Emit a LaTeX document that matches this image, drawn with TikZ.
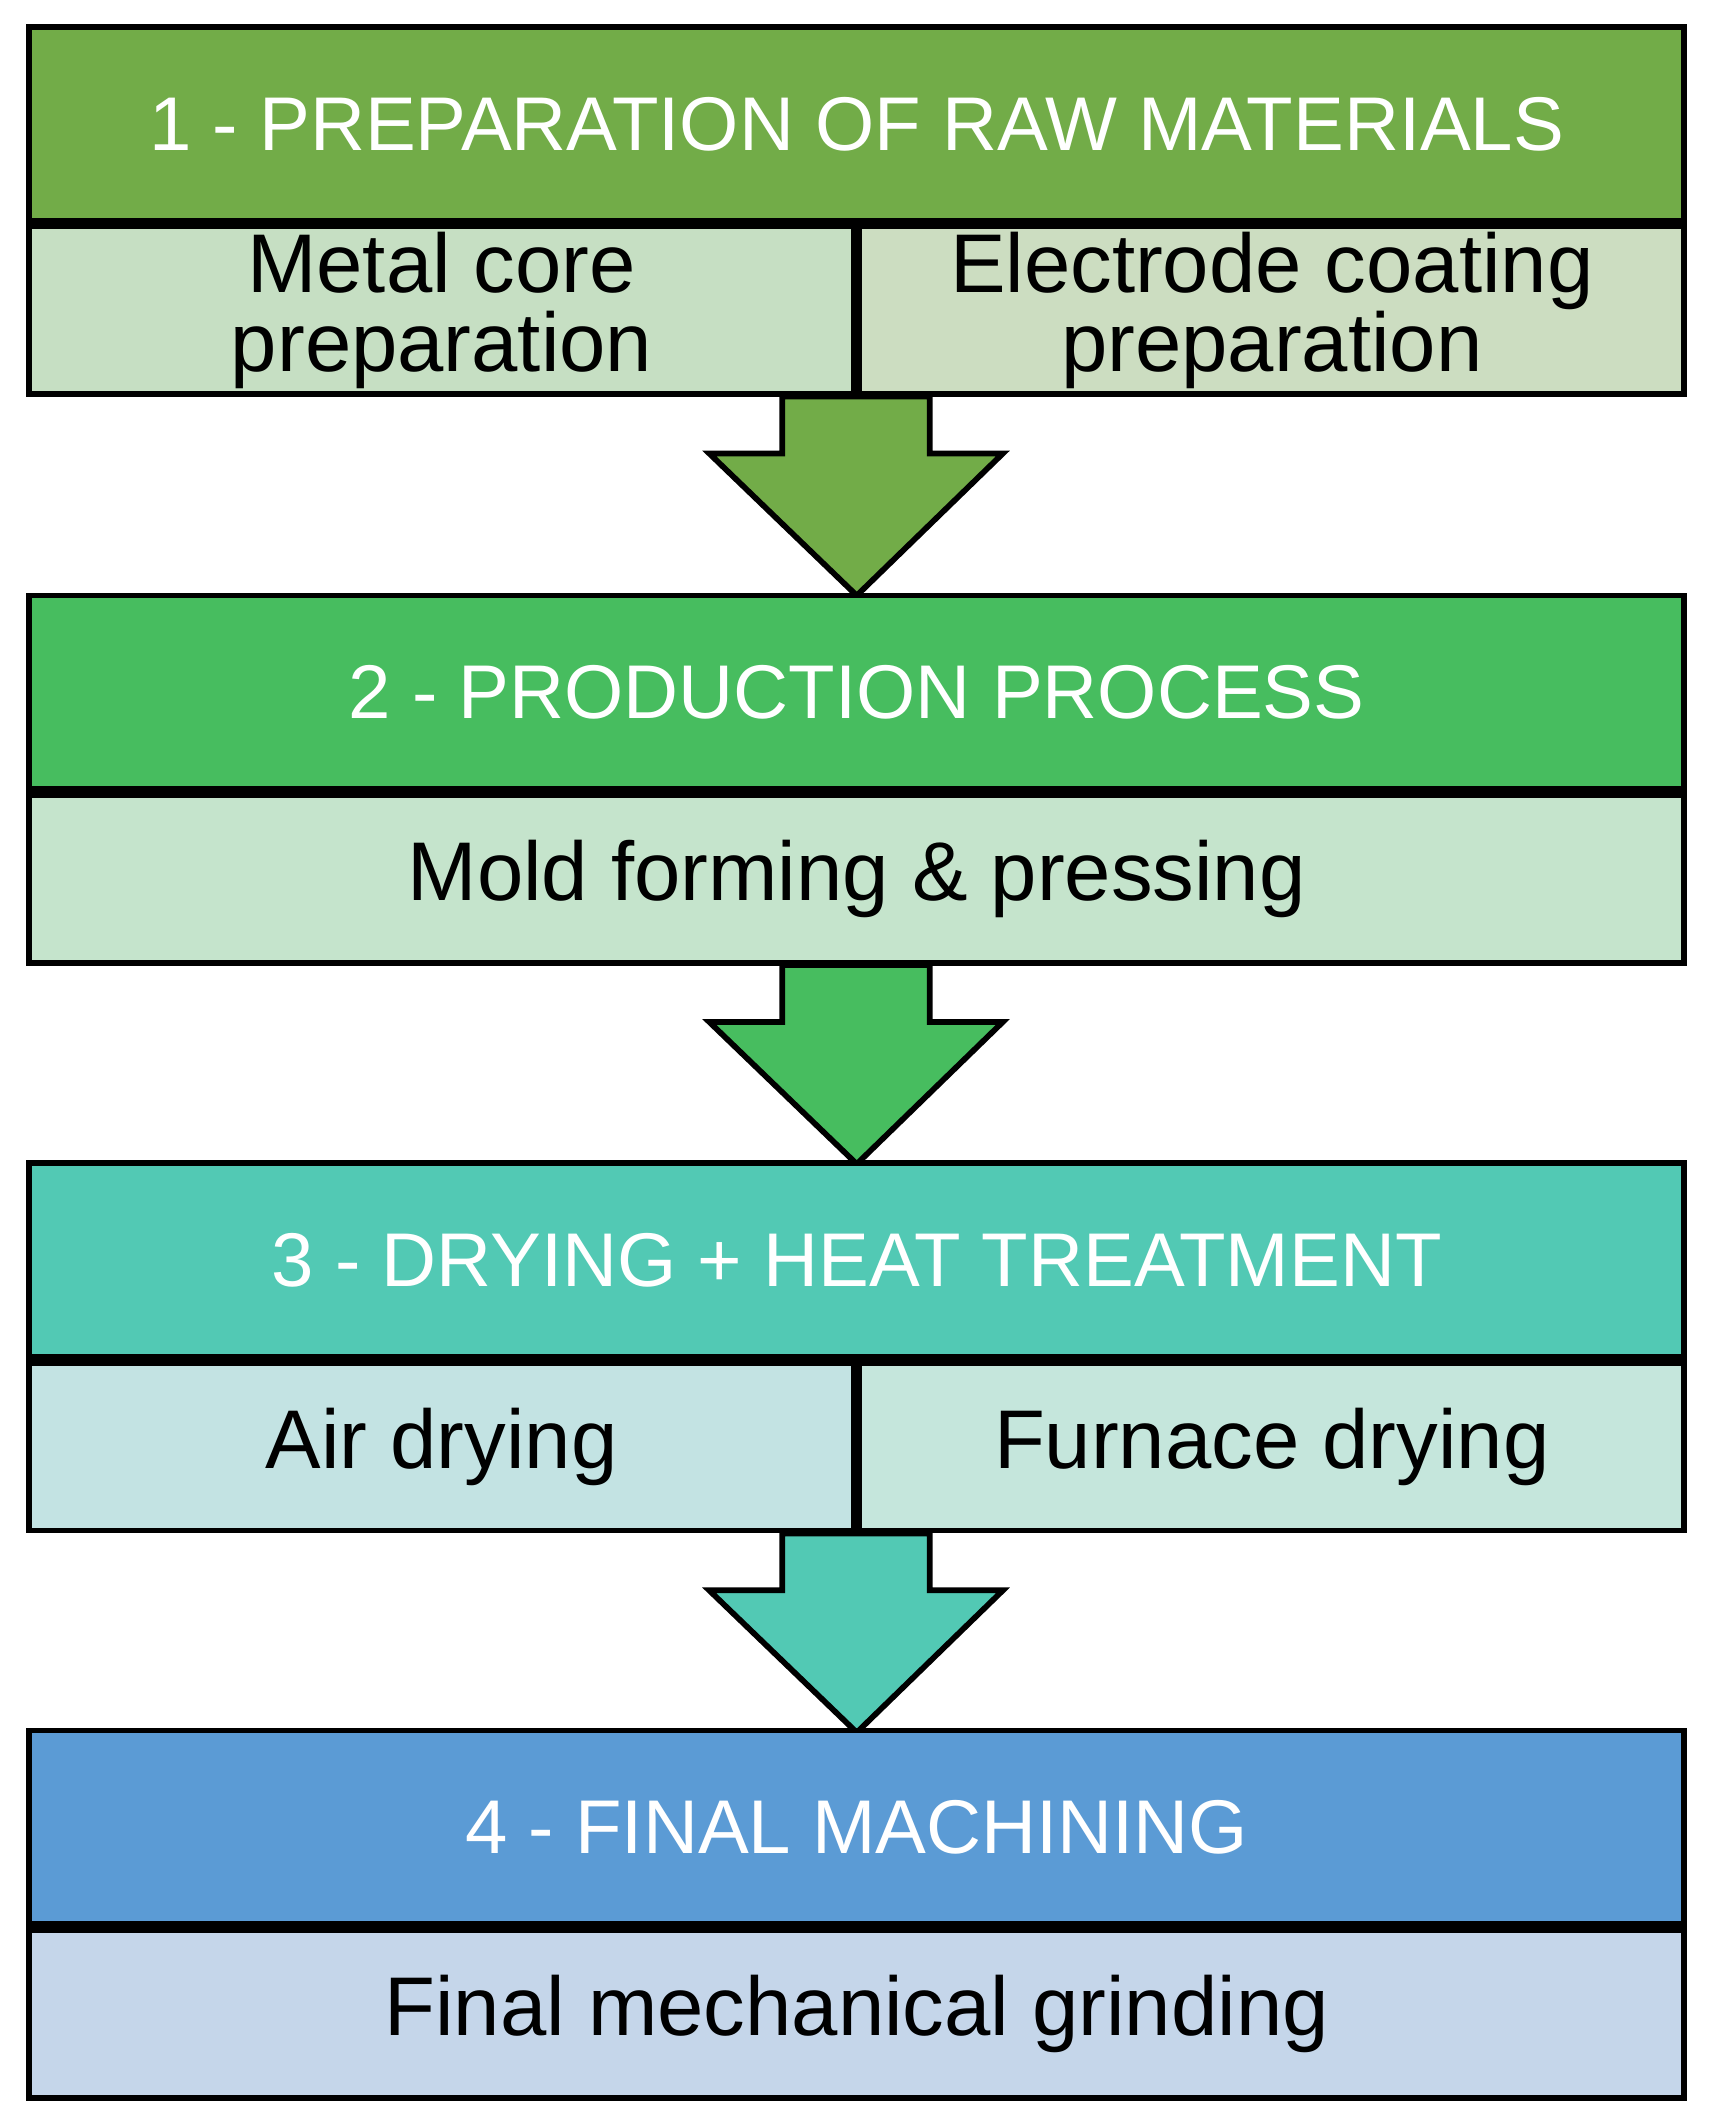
\documentclass[tikz,border=0pt]{standalone}
\usepackage{fontspec}
\setmainfont{Liberation Sans}
\usetikzlibrary{positioning}
\definecolor{gA}{HTML}{72AC48}
\definecolor{gAl}{HTML}{C6DFC3}
\definecolor{gAr}{HTML}{CCDDC1}
\definecolor{gB}{HTML}{47BD5F}
\definecolor{gBl}{HTML}{C5E4CC}
\definecolor{tC}{HTML}{52C9B4}
\definecolor{tCl}{HTML}{C3E3E3}
\definecolor{tCr}{HTML}{C5E6DC}
\definecolor{bD}{HTML}{5B9BD5}
\definecolor{bDl}{HTML}{C5D6EA}
\tikzset{
  box/.style={draw, line width=1.2pt, inner sep=0pt, align=center},
  hdr/.style={box, minimum width=12.22cm, minimum height=1.43cm, text=white, font=\fontsize{16}{19}\selectfont},
  full/.style={box, minimum width=12.22cm, minimum height=1.24cm, font=\fontsize{17.5}{20}\selectfont},
  half/.style={box, minimum width=6.09cm, minimum height=1.24cm, font=\fontsize{17.5}{16.5}\selectfont},
  flow/.style={draw, line width=1.2pt, line join=miter}
}
\begin{document}
\begin{tikzpicture}[x=0.01cm,y=-0.01cm]
\useasboundingbox (0,0) rectangle (1266,1556);
% arrows first
\foreach \t/\c in {293/gA,713/gB,1133/tC}{
  \draw[flow, fill=\c] (578,\t) -- (578,\t+42) -- (524,\t+42) -- (633,\t+147)
    -- (741,\t+42) -- (687,\t+42) -- (687,\t) -- cycle;
}
% stage 1
\node[hdr, fill=gA] (h1) at (633,91.5) {1 - PREPARATION OF RAW MATERIALS};
\node[half, fill=gAl, below right=0pt and 0pt of h1.south west] (core) {Metal core\\preparation};
\node[half, fill=gAr, below left=0pt and 0pt of h1.south east] (coat) {Electrode coating\\preparation};
% stage 2
\node[hdr, fill=gB] (h2) at (633,511.5) {2 - PRODUCTION PROCESS};
\node[full, fill=gBl, below=0pt of h2] (mold) {Mold forming \& pressing};
% stage 3
\node[hdr, fill=tC] (h3) at (633,931) {3 - DRYING + HEAT TREATMENT};
\node[half, fill=tCl, below right=0pt and 0pt of h3.south west] (air) {Air drying};
\node[half, fill=tCr, below left=0pt and 0pt of h3.south east] (furn) {Furnace drying};
% stage 4
\node[hdr, fill=bD] (h4) at (633,1350) {4 - FINAL MACHINING};
\node[full, fill=bDl, below=0pt of h4] (grind) {Final mechanical grinding};
\end{tikzpicture}
\end{document}
